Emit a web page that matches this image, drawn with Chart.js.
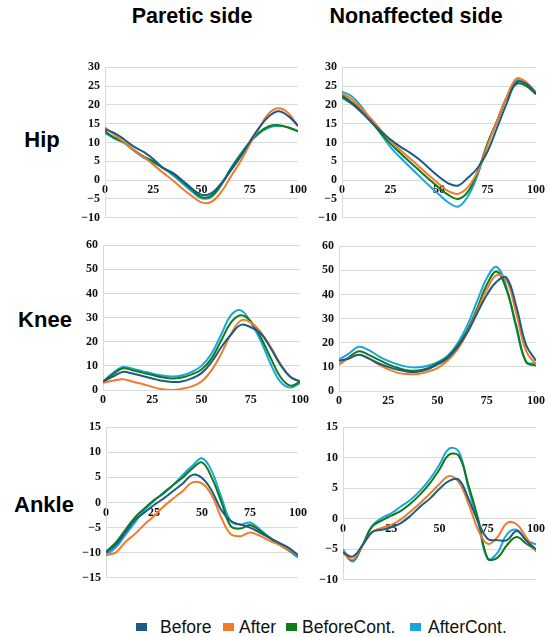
<!DOCTYPE html>
<html>
<head>
<meta charset="utf-8">
<script src="https://cdn.jsdelivr.net/npm/chart.js@4.4.1/dist/chart.umd.min.js"></script>
<style>
  body { margin: 0; background: #fff; }
  #page { position: relative; width: 550px; height: 637px; overflow: hidden; font-family: "Liberation Sans", Arial, sans-serif; }
  .panel { position: absolute; }
  .title { position: absolute; font-weight: bold; font-size: 21.5px; color: #000; transform: translate(-50%, -50%); white-space: nowrap; }
  .row { position: absolute; font-weight: bold; font-size: 22px; color: #000; transform: translate(-50%, -50%); }
  .lg-box { position: absolute; width: 11px; height: 8px; top: 623px; }
  .lg-txt { position: absolute; top: 616px; font-size: 17.5px; color: #111; line-height: 22px; }
</style>
</head>
<body>
<div id="page">
  <div class="title" style="left:192px; top:16px;">Paretic side</div>
  <div class="title" style="left:416px; top:16px;">Nonaffected side</div>
  <div class="row" style="left:42px; top:140px;">Hip</div>
  <div class="row" style="left:45px; top:320px;">Knee</div>
  <div class="row" style="left:44px; top:505px;">Ankle</div>

  <div class="panel" style="left:73px; top:55px; width:237px; height:175px;"><canvas id="hipP"></canvas></div>
  <div class="panel" style="left:310px; top:55px; width:238px; height:175px;"><canvas id="hipN"></canvas></div>
  <div class="panel" style="left:71px; top:233px; width:241px; height:177px;"><canvas id="kneeP"></canvas></div>
  <div class="panel" style="left:307px; top:234px; width:241px; height:177px;"><canvas id="kneeN"></canvas></div>
  <div class="panel" style="left:74px; top:415px; width:236px; height:175px;"><canvas id="ankleP"></canvas></div>
  <div class="panel" style="left:311px; top:415px; width:237px; height:177px;"><canvas id="ankleN"></canvas></div>

  <div id="legend"></div>
</div>
<script>
// % del ciclo de marcha (eje x compartido)
const pct = [0, 5, 10, 15, 20, 25, 30, 35, 40, 45, 50, 55, 60, 65, 70, 75, 80, 85, 90, 95, 100];

const seriesNames = ["Before", "After", "BeforeCont.", "AfterCont."];
const seriesColors = ["#1b5c85", "#f5792a", "#117a19", "#1ba5dd"];

// Cadera - lado paretico
const hipPBefore = [13.5, 12.5, 10.8, 8.9, 7.5, 5.6, 3.3, 2, 0, -2.2, -3.9, -3.5, -1, 2.4, 6, 10.2, 14, 17, 18.3, 17, 14.5];
const hipPAfter  = [14, 12, 10, 8, 6.2, 4.1, 2, 0, -2.2, -4.2, -5.9, -5.8, -3.3, 0.8, 4.8, 9.5, 14, 17.8, 19.1, 17.8, 14.2];
const hipPBC     = [13, 11.2, 10, 8, 6.3, 5, 3.3, 1.8, -0.3, -2.5, -4.5, -4.2, -1.3, 2.8, 6.5, 10, 12.7, 14.3, 14.6, 14, 13];
const hipPAC     = [12.5, 11, 9.8, 7.8, 6, 4.6, 3.2, 1.4, -0.8, -3, -4.8, -4.5, -1.5, 3, 6.8, 10, 12.5, 14, 14.4, 14, 13];

// Cadera - lado no afectado
const hipNBefore = [22, 20.3, 18, 15.5, 13, 10.8, 8.9, 7.3, 5.4, 3.1, 0.9, -0.9, -1.4, 0.7, 3.3, 7.6, 14, 20.5, 26, 25.6, 23];
const hipNAfter  = [23, 21.5, 19, 16.3, 13.3, 10.5, 8, 5.8, 3.5, 1.2, -1, -3, -3.6, -1.8, 2.4, 9.2, 15.8, 22.2, 27, 26, 23.3];
const hipNBC     = [22.5, 20.7, 18.5, 15.5, 12.5, 9.7, 7.2, 4.8, 2.5, 0.2, -2, -4, -5, -3, 2.4, 9.7, 15.8, 22, 25.6, 25, 22.8];
const hipNAC     = [23.5, 22.3, 19.5, 15.8, 12.3, 8.8, 6, 3.5, 1, -1.5, -3.8, -6, -7, -4.2, 1.5, 9.7, 15.8, 22.2, 26.5, 25.6, 23.3];

// Rodilla - lado paretico
const kneePBefore = [3.5, 5.5, 7.5, 6.8, 5.8, 4.8, 3.8, 3.3, 3.5, 4.8, 7, 11.5, 17.7, 23, 27, 26, 23.5, 17.5, 10.5, 5.5, 3.5];
const kneePAfter  = [3, 3.8, 4.5, 3.5, 2.5, 1.3, 0.3, 0, 0.5, 1.5, 3.5, 8, 15, 23.2, 28.8, 28, 24, 18, 11, 5.5, 3.5];
const kneePBC     = [3.5, 6.5, 9, 8.2, 7.2, 6.2, 5.3, 4.8, 5.2, 6.5, 8.5, 13, 20.5, 28, 31, 28.5, 22, 13.5, 5.5, 1.8, 3.3];
const kneePAC     = [3.5, 7, 9.5, 8.8, 7.8, 6.8, 6, 5.6, 6, 7.5, 10, 15, 23, 31, 33, 28, 20.5, 11, 3.5, 1, 2.8];

// Rodilla - lado no afectado
const kneeNBefore = [12.5, 13.5, 15, 13.5, 11.5, 10, 8.8, 8, 8, 9, 11, 13.5, 18, 24, 32, 39.8, 45.3, 47, 35, 19, 12.5];
const kneeNAfter  = [11, 13.5, 15, 13.5, 11, 9, 7.5, 7, 7, 8, 9.5, 12.5, 17, 24, 33, 42, 48, 46, 32, 16.5, 11];
const kneeNBC     = [11, 14, 16.5, 15, 13, 11, 9.5, 8.5, 8.5, 9.5, 11.5, 14, 18.5, 25, 34, 44, 49.5, 42, 27, 12, 10.5];
const kneeNAC     = [13, 15.5, 18.3, 17, 14.5, 12.5, 11, 10, 9.8, 10.5, 12, 14.5, 19.5, 27, 37, 46.7, 51.4, 43, 26, 12, 11.5];

// Tobillo - lado paretico
const ankPBefore = [-10, -8.5, -6, -3.5, -2, -0.5, 0.8, 2.3, 3.8, 5.5, 4.9, 2.4, -1.5, -3.7, -4.4, -5, -6, -7, -8, -9, -10.5];
const ankPAfter  = [-10.5, -10, -7.9, -6.3, -4.4, -2.7, -0.8, 0.8, 2.3, 4, 3.8, 1.5, -3, -6.3, -6.7, -6, -6.6, -7.6, -8.4, -9.4, -10.5];
const ankPBC     = [-9.8, -8, -5.5, -3, -1.2, 0.5, 1.8, 3.5, 5, 6.8, 8, 5, 0.2, -4.7, -5.2, -4.5, -5.6, -6.9, -8.3, -9.5, -10.5];
const ankPAC     = [-10.5, -9, -6.5, -4, -1.5, 0.3, 2, 3.5, 5.5, 7.3, 8.8, 6.3, 1.1, -3.7, -4.4, -4, -5.3, -7, -8.3, -9.5, -11];

// Tobillo - lado no afectado
const ankNBefore = [-5.5, -6.2, -4.4, -2.2, -1.8, -1.4, -0.7, 0.5, 2, 3.3, 4.9, 6.2, 6.4, 3.3, -0.5, -3.3, -3.5, -3.5, -2, -3.6, -5];
const ankNAfter  = [-5.5, -6.7, -4.4, -2.2, -1.5, -1, -0.1, 1.2, 2.6, 4.1, 5.7, 7, 6, 2.5, -1.8, -4.1, -3, -0.7, -0.9, -3.1, -5.4];
const ankNBC     = [-5.5, -6.8, -4.4, -1.3, -0.3, 0.5, 1.3, 2.5, 4, 5.8, 8.1, 10.5, 10.3, 5.5, 0, -6.5, -6.4, -4.3, -3, -4.1, -5.1];
const ankNAC     = [-5, -7, -4.4, -1.2, 0.1, 0.9, 2, 3.1, 4.6, 6.5, 8.9, 11.5, 11, 5, -0.6, -6.6, -5.6, -2.5, -1.8, -3.5, -4.2];

// Rangos de los ejes y
const hipTicks = { min: -10, max: 30, step: 5 };
const kneeTicks = { min: 0, max: 60, step: 10 };
const ankPTicks = { min: -15, max: 15, step: 5 };
const ankNTicks = { min: -10, max: 15, step: 5 };
const xTicks = { min: 0, max: 100, step: 25 };

const tickFont = { family: "'Liberation Serif', 'Times New Roman', serif", weight: 'bold', size: 12 };

function crearPanel(id, series, range, padBottom) {
    const datasets = series.map(function(vals, i) {
        return {
            label: seriesNames[i],
            data: vals.map(function(v, k) { return { x: pct[k], y: v }; }),
            borderColor: seriesColors[i],
            backgroundColor: seriesColors[i],
            borderWidth: 2,
            pointRadius: 0,
            tension: 0.4,
            fill: false
        };
    });
    return new Chart(document.getElementById(id), {
        type: 'line',
        data: { datasets: datasets },
        options: {
            responsive: true,
            maintainAspectRatio: false,
            animation: false,
            layout: { padding: { top: 10, right: 12, bottom: padBottom, left: 0 } },
            plugins: { legend: { display: false }, tooltip: { enabled: false } },
            scales: {
                x: {
                    type: 'linear',
                    min: xTicks.min, max: xTicks.max,
                    position: { y: 0 },
                    grid: { display: false, drawTicks: false },
                    border: { display: false },
                    ticks: { stepSize: xTicks.step, font: tickFont, color: '#111', padding: 3, maxRotation: 0 }
                },
                y: {
                    min: range.min, max: range.max,
                    grid: { color: '#dadada', drawTicks: false, lineWidth: 1 },
                    border: { display: true, color: '#dadada' },
                    ticks: {
                        stepSize: range.step, font: tickFont, color: '#111', padding: 5,
                        callback: function(v) { return String(v).replace('-', '\u2212'); }
                    },
                    afterFit: function(scale) { scale.width = 32; }
                }
            }
        }
    });
}

crearPanel('hipP', [hipPBefore, hipPAfter, hipPBC, hipPAC], hipTicks, 10);
crearPanel('hipN', [hipNBefore, hipNAfter, hipNBC, hipNAC], hipTicks, 10);
crearPanel('kneeP', [kneePBefore, kneePAfter, kneePBC, kneePAC], kneeTicks, 20);
crearPanel('kneeN', [kneeNBefore, kneeNAfter, kneeNBC, kneeNAC], kneeTicks, 20);
crearPanel('ankleP', [ankPBefore, ankPAfter, ankPBC, ankPAC], ankPTicks, 10);
crearPanel('ankleN', [ankNBefore, ankNAfter, ankNBC, ankNAC], ankNTicks, 10);

// Leyenda comun
const legendBoxX = [136, 223, 286, 410];
const legendTxtX = [160, 239, 302, 428];
const legend = document.getElementById('legend');
seriesNames.forEach(function(name, i) {
    const box = document.createElement('div');
    box.className = 'lg-box';
    box.style.left = legendBoxX[i] + 'px';
    box.style.background = seriesColors[i];
    legend.appendChild(box);
    const txt = document.createElement('div');
    txt.className = 'lg-txt';
    txt.style.left = legendTxtX[i] + 'px';
    txt.textContent = name;
    legend.appendChild(txt);
});
</script>
</body>
</html>
